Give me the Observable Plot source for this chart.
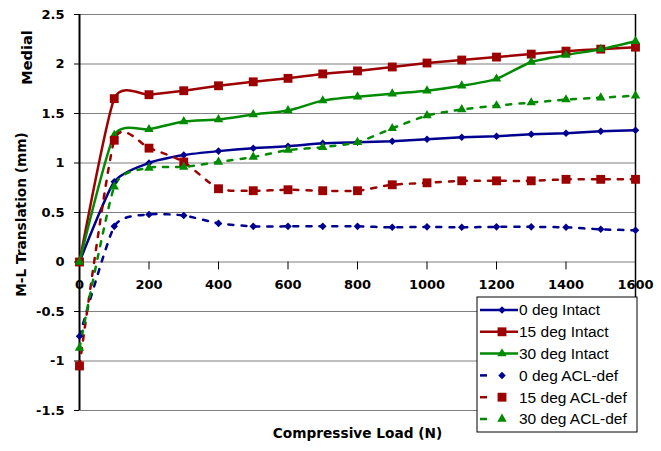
<!DOCTYPE html>
<html>
<head>
<meta charset="utf-8">
<script src="https://cdn.jsdelivr.net/npm/d3@7"></script>
<script src="https://cdn.jsdelivr.net/npm/@observablehq/plot@0.6"></script>
<style>
  html, body { margin: 0; padding: 0; background: #fff; }
  #chart { width: 661px; height: 451px; }
</style>
</head>
<body>
<div id="chart"></div>
<script>
// ---- data ----
const loads = [0,100,200,300,400,500,600,700,800,900,1000,1100,1200,1300,1400,1500,1600];
const intact0  = [0,0.81,1.00,1.08,1.12,1.15,1.17,1.20,1.21,1.22,1.24,1.26,1.27,1.29,1.30,1.32,1.33];
const intact15 = [0,1.65,1.69,1.73,1.78,1.82,1.855,1.90,1.93,1.97,2.01,2.04,2.07,2.10,2.13,2.15,2.17];
const intact30 = [0,1.28,1.34,1.42,1.44,1.49,1.53,1.63,1.67,1.70,1.73,1.78,1.85,2.02,2.09,2.15,2.23];
const acl0  = [-0.75,0.36,0.48,0.47,0.39,0.36,0.36,0.36,0.36,0.35,0.355,0.35,0.355,0.355,0.35,0.33,0.32];
const acl15 = [-1.05,1.23,1.15,1.01,0.74,0.72,0.73,0.72,0.72,0.78,0.80,0.82,0.82,0.82,0.835,0.835,0.835];
const acl30 = [-0.87,0.76,0.95,0.96,1.01,1.06,1.13,1.16,1.21,1.35,1.48,1.54,1.58,1.61,1.64,1.66,1.68];
const seriesNames = ["0 deg Intact","15 deg Intact","30 deg Intact","0 deg ACL-def","15 deg ACL-def","30 deg ACL-def"];
const seriesValues = [intact0, intact15, intact30, acl0, acl15, acl30];
const xTicks = [0,200,400,600,800,1000,1200,1400,1600];
const yTicks = [-1.5,-1,-0.5,0,0.5,1,1.5,2,2.5];
const xTitle = "Compressive Load (N)";
const yTitle = "M-L Translation (mm)";
const yNote = "Medial";

// ---- styles ----
const colors = ["#000090","#9c0000","#008a00","#000090","#9c0000","#008a00"];
const symbols = ["diamond2","square","triangle","diamond2","square","triangle"];
const radii = [3.4,5,3.5,3.4,5,3.5];
const dashed = [false,false,false,true,true,true];
const AXFONT = "'DejaVu Sans', Verdana, sans-serif";
const LGFONT = "'Liberation Sans', Arial, sans-serif";

const rows = seriesValues.map((vals, s) => loads.map((x, i) => ({s, x, y: vals[i]})));

const marks = [
  Plot.ruleY(yTicks, {stroke: "#7f7f7f", strokeWidth: 1}),
  Plot.ruleX([1600], {stroke: "#000", strokeWidth: 1.5}),
  Plot.ruleX(xTicks, {x: d => d, y1: 0, y2: -0.08, stroke: "#000", strokeWidth: 1}),
  Plot.ruleX([0], {stroke: "#000", strokeWidth: 2}),
  Plot.axisY(yTicks, {tickSize: 5, tickPadding: 10, fontSize: 13, fontWeight: "bold", tickFormat: d => String(d), label: null, stroke: "#000"}),
  Plot.text(xTicks, {x: d => d, y: 0, dy: 23, text: d => String(d), fontSize: 13, fontWeight: "bold", fill: "#000"}),
];
rows.forEach((r, s) => {
  marks.push(Plot.line(r, {x: "x", y: "y", stroke: colors[s], strokeWidth: 2.5, curve: "cardinal", tension: 0.4,
    strokeDasharray: dashed[s] ? "5,8" : null}));
});
rows.forEach((r, s) => {
  marks.push(Plot.dot(r, {x: "x", y: "y", symbol: symbols[s], r: radii[s], fill: colors[s], stroke: "none"}));
});
marks.push(
  Plot.text([xTitle], {frameAnchor: "bottom", dy: 27, text: d => d, fontSize: 13.7, fontWeight: "bold", fill: "#000"}),
  Plot.text([yTitle], {frameAnchor: "left", textAnchor: "middle", dx: -58, dy: 2, rotate: -90, text: d => d, fontSize: 13.7, fontWeight: "bold", fill: "#000"}),
  Plot.text([yNote], {frameAnchor: "top-left", textAnchor: "middle", dx: -58, dy: 43, rotate: -90, text: d => d, fontSize: 14.5, fontWeight: "bold", fill: "#000"})
);

const svg = Plot.plot({
  width: 661, height: 451,
  marginLeft: 79, marginRight: 26, marginTop: 14, marginBottom: 41,
  style: {fontFamily: AXFONT, background: "#fff", color: "#000"},
  x: {domain: [0, 1600], axis: null},
  y: {domain: [-1.5, 2.5], axis: null},
  marks
});
document.getElementById("chart").appendChild(svg);

// ---- legend ----
const lg = d3.select(svg).append("g").attr("transform", "translate(477,297)");
lg.append("rect").attr("x", 0).attr("y", 0).attr("width", 160).attr("height", 135)
  .attr("fill", "#fff").attr("stroke", "#000").attr("stroke-width", 1);
const symFor = {diamond2: d3.symbolDiamond2, square: d3.symbolSquare, triangle: d3.symbolTriangle};
seriesNames.forEach((name, i) => {
  const cy = 13 + i * 21.8;
  const g = lg.append("g").attr("transform", `translate(0,${cy})`);
  g.append("line").attr("x1", 3).attr("x2", dashed[i] ? 10 : 41).attr("y1", 0).attr("y2", 0)
    .attr("stroke", colors[i]).attr("stroke-width", 2.5);
  g.append("path").attr("transform", "translate(25,0)")
    .attr("d", d3.symbol(symFor[symbols[i]], Math.PI * radii[i] * radii[i])())
    .attr("fill", colors[i]);
  g.append("text").attr("x", 42).attr("y", 0).attr("dy", "0.35em").attr("text-anchor", "start")
    .attr("font-family", LGFONT).attr("font-size", 15.5).attr("font-weight", "normal")
    .attr("fill", "#000").text(name);
});
</script>
</body>
</html>
